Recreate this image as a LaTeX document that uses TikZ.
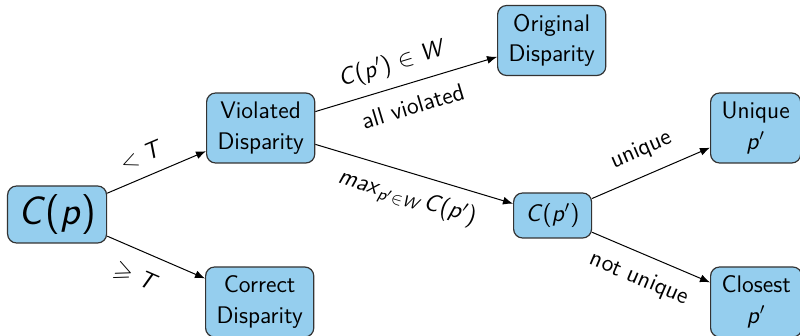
\documentclass[tikz,border=0pt]{standalone}
\usepackage{amsmath,amssymb}
\usetikzlibrary{arrows.meta}
\definecolor{boxblue}{RGB}{149,206,238}
\newcommand{\vi}[1]{\textit{#1}}
\begin{document}
\begin{tikzpicture}[x=0.5pt,y=-0.5pt,
  font=\sffamily\fontsize{12}{15.3}\selectfont,
  box/.style={draw=black!80,line width=0.6pt,fill=boxblue,rounded corners=4.5pt,
    align=center,inner xsep=5.5pt,minimum height=35pt,anchor=west},
  arr/.style={-{Latex[length=5pt,width=4pt]},line width=0.5pt},
  lab/.style={sloped,inner sep=5pt}]
\useasboundingbox (0,0) rectangle (800,336);
\node[box,minimum height=28.5pt,minimum width=49.5pt,font=\sffamily\fontsize{20}{24}\selectfont,inner xsep=4pt] (cp) at (7,214.5) {\vi{C}(\vi{p})};
\node[box] (viol) at (206,128) {Violated\\Disparity};
\node[box] (corr) at (205,302) {Correct\\Disparity};
\node[box] (orig) at (497,40.5) {Original\\Disparity};
\node[box,minimum height=22.5pt,minimum width=39pt,inner xsep=4pt] (cpp) at (513,215.5) {\vi{C}(\vi{p}$'$)};
\node[box] (uniq) at (710,128) {Unique\\\vi{p}$'$};
\node[box] (clos) at (710,302) {Closest\\\vi{p}$'$};
\draw[arr] (cp) -- node[lab,above,pos=0.43,inner sep=6pt] {$<$ \vi{T}} (viol);
\draw[arr] (cp) -- node[lab,below,pos=0.4,inner sep=8pt] {$\geqslant$ \vi{T}} (corr);
\draw[arr] (viol) -- node[lab,above,pos=0.46] {\vi{C}(\vi{p}$'$) $\in$ \vi{W}} node[lab,below,pos=0.5,inner sep=7pt] {all violated} (orig);
\draw[arr] (viol) -- node[lab,below,pos=0.5,inner sep=6pt] {\vi{max}$_{\text{\itshape p}'\in\text{\itshape W}}$\,\vi{C}(\vi{p}$'$)} (cpp);
\draw[arr] (cpp) -- node[lab,above,pos=0.5,inner sep=7pt] {unique} (uniq);
\draw[arr] (cpp) -- node[lab,below,pos=0.48,inner sep=7pt] {not unique} (clos);
\end{tikzpicture}
\end{document}
